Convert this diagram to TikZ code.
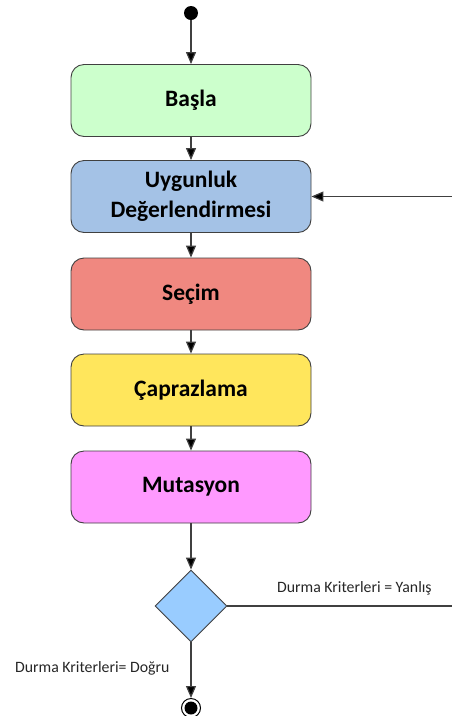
\documentclass[tikz,border=0pt]{standalone}
\usepackage{fontspec}
\setmainfont{Carlito}
\usetikzlibrary{arrows.meta,shapes.geometric}
\definecolor{linec}{HTML}{404040}
\definecolor{cstart}{HTML}{CCFFCC}
\definecolor{ceval}{HTML}{A4C2E6}
\definecolor{csel}{HTML}{F08880}
\definecolor{ccross}{HTML}{FFE65C}
\definecolor{cmut}{HTML}{FF99FF}
\definecolor{cdec}{HTML}{99CCFF}
\tikzset{
  stepbox/.style={draw=linec, line width=0.9pt, rounded corners=13pt, minimum width=240pt, minimum height=72pt, inner sep=0pt, font=\fontsize{23.5}{30}\selectfont\bfseries, align=center, text=black},
  flow/.style={draw=linec, line width=1.2pt, -{Triangle[length=12pt,width=10pt,fill=black]}},
  plain/.style={draw=linec, line width=1.2pt},
  lbl/.style={font=\fontsize{15.8}{18}\selectfont, text=black!85, inner sep=0pt}
}
\begin{document}
\begin{tikzpicture}[x=1pt,y=-1pt]
\useasboundingbox (0,0) rectangle (452,716);
\node[circle, fill=black, minimum size=14pt, inner sep=0pt] (start) at (191,13) {};
\node[stepbox, fill=cstart] (basla) at (191,100.5) {Başla};
\node[stepbox, fill=ceval] (uyg) at (191,196.5) {Uygunluk\\Değerlendirmesi};
\node[stepbox, fill=csel] (secim) at (191,294) {Seçim};
\node[stepbox, fill=ccross] (capr) at (191,390) {Çaprazlama};
\node[stepbox, fill=cmut] (mut) at (191,487) {Mutasyon};
\node[diamond, draw=linec, line width=0.9pt, fill=cdec, minimum width=72pt, minimum height=72pt, inner sep=0pt] (dec) at (191,606) {};
\node[circle, draw=black, line width=1pt, fill=white, minimum size=19pt, inner sep=0pt] (end) at (191,708) {};
\fill[black] (end.center) circle (6.5pt);
\coordinate (rightdown) at (455,606);
\coordinate (rightup) at (455,196.5);
\draw[flow] (start) -- (basla);
\draw[flow] (basla) -- (uyg);
\draw[flow] (uyg) -- (secim);
\draw[flow] (secim) -- (capr);
\draw[flow] (capr) -- (mut);
\draw[flow] (mut) -- (dec);
\draw[flow] (dec) -- (end);
\draw[plain] (dec.east) -- (rightdown) -- (rightup);
\draw[flow] (rightup) -- (uyg.east);
\node[lbl, anchor=base west] (yl) at (277,592) {Durma Kriterleri = Yanlış};
\node[lbl, anchor=base west] (dl) at (15,672) {Durma Kriterleri= Doğru};
\end{tikzpicture}
\end{document}
